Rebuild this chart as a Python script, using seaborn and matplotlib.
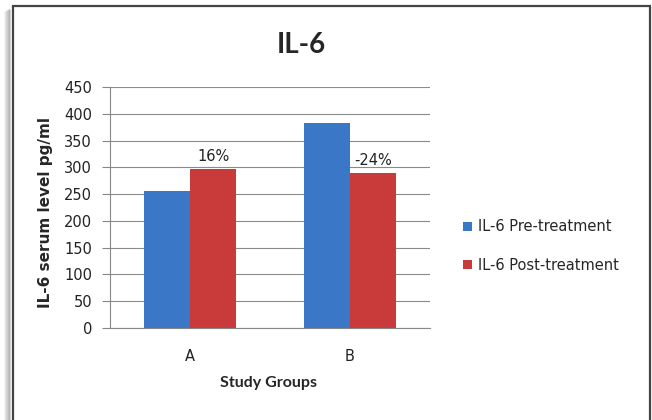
import matplotlib
matplotlib.use("Agg")
import matplotlib.pyplot as plt
import seaborn as sns
import pandas as pd
from matplotlib.patches import Rectangle

groups = ["A", "B"]
series = ["IL-6 Pre-treatment", "IL-6 Post-treatment"]
pre_values = [255, 382]
post_values = [296, 289]
change_labels = ["16%", "-24%"]
yticks = [0, 50, 100, 150, 200, 250, 300, 350, 400, 450]

df = pd.DataFrame({
    "group": groups * 2,
    "series": [series[0]] * len(groups) + [series[1]] * len(groups),
    "value": pre_values + post_values,
})

sns.set_style("white")
plt.rcParams["font.family"] = ["DejaVu Sans"]

W, H = 652, 420
fig = plt.figure(figsize=(W / 100, H / 100), dpi=100)
ax = fig.add_axes([110 / W, 1 - 328 / H, 320 / W, 241 / H])

palette = {series[0]: "#3a77c6", series[1]: "#c93b3b"}
sns.barplot(data=df, x="group", y="value", hue="series", hue_order=series,
            palette=palette, width=0.58, ax=ax, saturation=1,
            edgecolor="none", legend=True)

ax.set_xlim(-0.5, 1.5)
ax.set_ylim(0, 450)
ax.set_yticks(yticks)
ax.set_yticklabels([str(v) for v in yticks], fontsize=10.5, color="#222222")
ax.tick_params(axis="x", labelsize=10.5, colors="#222222", pad=15, length=0)
ax.tick_params(axis="y", length=6, width=0.8, color="#888888", pad=7, left=True)
ax.grid(axis="y", color="#8a8a8a", linewidth=0.8)
ax.set_axisbelow(True)
for s in ["top", "right"]:
    ax.spines[s].set_visible(False)
for s in ["left", "bottom"]:
    ax.spines[s].set_color("#888888")
    ax.spines[s].set_linewidth(0.8)

# percentage labels above post-treatment bars
post_container = ax.containers[1]
ax.bar_label(post_container, labels=change_labels, padding=4, fontsize=10.5, color="#222222")

ax.set_xlabel("Study Groups", fontsize=11.5, fontweight="bold", family=["Lato", "DejaVu Sans"], labelpad=10)
ax.set_ylabel("IL-6 serum level pg/ml", fontsize=11, fontweight="bold", family=["DejaVu Sans"], labelpad=6)
ax.yaxis.set_label_coords(53 / W, 1 - 212 / H, transform=fig.transFigure)
ax.xaxis.set_label_coords(269 / W, 1 - 376 / H, transform=fig.transFigure)

fig.text(301 / W, 1 - 45 / H, "IL-6", ha="center", va="center", fontsize=20,
         fontweight="bold", family=["Lato", "DejaVu Sans"])

leg = ax.legend(loc="center left", bbox_to_anchor=(450 / W, 1 - 246 / H),
                bbox_transform=fig.transFigure, frameon=False, fontsize=10.5,
                handlelength=0.6, handleheight=0.6, handletextpad=0.4, labelspacing=1.6)

# chart frame with soft shadow on the left
for i, a in enumerate([0.05, 0.08, 0.11, 0.14, 0.17, 0.2]):
    x = (5 + i) / W
    fig.lines.append(plt.Line2D([x, x], [0, 1 - (12 - i * 0.5) / H], transform=fig.transFigure,
                                color="black", alpha=a, linewidth=1.2))
fig.patches.append(Rectangle((12.5 / W, -0.05), (650.5 - 12.5) / W, 1.05 - 6.5 / H,
                             transform=fig.transFigure, facecolor="none",
                             edgecolor="#444444", linewidth=1.6, zorder=1))

fig.savefig("out.png", dpi=100)
